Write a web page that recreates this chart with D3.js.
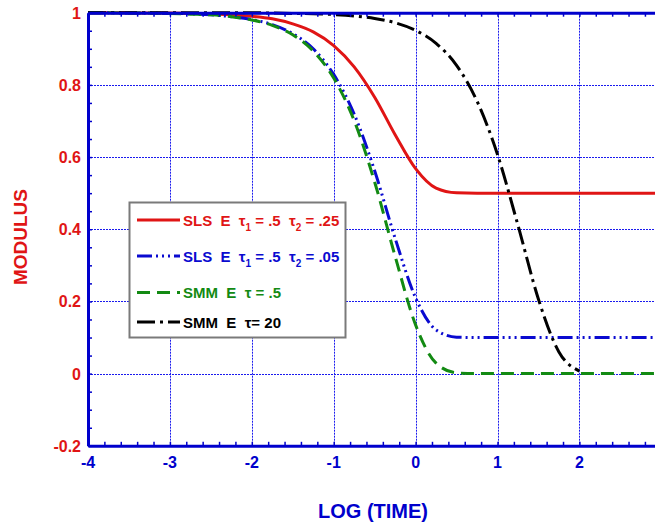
<!DOCTYPE html>
<html>
<head>
<meta charset="utf-8">
<script src="https://cdn.jsdelivr.net/npm/d3@7"></script>
<style>
body { margin: 0; background: #fff; }
svg { display: block; font-family: 'Liberation Sans', Arial, sans-serif; font-weight: bold; }
</style>
</head>
<body>
<svg width="655" height="526"></svg>
<script>
// Relaxation modulus against log(time)

var logTime = [-4, -3.75, -3.5, -3.25, -3, -2.75, -2.5, -2.25, -2, -1.75, -1.5, -1.25, -1, -0.75, -0.5, -0.25,
	0, 0.25, 0.5, 0.75, 1, 1.25, 1.5, 1.75, 2, 2.25, 2.5, 2.75, 3]

// SLS  tau1 = .5  tau2 = .25
var slsRed = [1.000, 1.000, 1.000, 0.999, 0.999, 0.998, 0.997, 0.994, 0.990, 0.983, 0.969, 0.947, 0.909, 0.850, 0.766, 0.662,
	0.568, 0.514, 0.501, 0.500, 0.500, 0.500, 0.500, 0.500, 0.500, 0.500, 0.500, 0.500, 0.500]
// SLS  tau1 = .5  tau2 = .05
var slsBlue = [1.000, 1.000, 0.999, 0.999, 0.998, 0.997, 0.994, 0.989, 0.981, 0.967, 0.942, 0.900, 0.829, 0.719, 0.562, 0.375,
	0.210, 0.121, 0.101, 0.100, 0.100, 0.100, 0.100, 0.100, 0.100, 0.100, 0.100, 0.100, 0.100]
// SMM  tau = .5
var smmGreen = [1.000, 1.000, 0.999, 0.999, 0.998, 0.996, 0.994, 0.989, 0.980, 0.965, 0.939, 0.894, 0.819, 0.701, 0.531, 0.325,
	0.135, 0.029, 0.002, 0, 0, 0, 0, 0, 0, 0, 0, 0, 0]
// SMM  tau = 20 (curve stops at log t = 2)
var smmBlack = [1.000, 1.000, 1.000, 1.000, 1.000, 1.000, 1.000, 1.000, 1.000, 0.999, 0.998, 0.997, 0.995, 0.991, 0.984, 0.972,
	0.951, 0.915, 0.854, 0.755, 0.607, 0.411, 0.206, 0.060, 0.007, null, null, null, null]

var xTicks = [-4, -3, -2, -1, 0, 1, 2, 3]
var yTicks = [-0.2, 0, 0.2, 0.4, 0.6, 0.8, 1]

var legendLabels = [
	[['SLS  E  \u03c4', 0], ['1', 1], [' = .5  \u03c4', 0], ['2', 1], [' = .25', 0]],
	[['SLS  E  \u03c4', 0], ['1', 1], [' = .5  \u03c4', 0], ['2', 1], [' = .05', 0]],
	[['SMM  E  \u03c4 = .5', 0]],
	[['SMM  E  \u03c4= 20', 0]]
]

var series = [
	{values: slsRed, color: '#e01515', dash: null},
	{values: slsBlue, color: '#0a0ad0', dash: '15,4,2,4,2,4,2,4'},
	{values: smmGreen, color: '#138a13', dash: '13,7'},
	{values: smmBlack, color: '#000000', dash: '18,5,3,5'}
]

var svg = d3.select('svg')
var axisBlue = '#0000cc'
var red = '#e01515'
var W = 655

var plotL = 88, plotR = 661.3, plotT = 12.7, plotB = 445.8
var x = d3.scaleLinear().domain([-4, 3]).range([plotL, plotR])
var y = d3.scaleLinear().domain([-0.2, 1]).range([plotB, plotT])

// snap thin grid lines onto pixel centres so they stay crisp
function px(v) { return Math.round(v) + 0.5 }

svg.append('clipPath').attr('id', 'plot-clip')
	.append('rect')
	.attr('x', plotL).attr('y', plotT - 2)
	.attr('width', plotR - plotL).attr('height', plotB - plotT + 2)

// grid
var grid = svg.append('g').attr('class', 'grid')
grid.selectAll('.vgrid')
	.data(xTicks.slice(1, -1))
	.enter()
	.append('line')
	.attr('class', 'vgrid')
	.attr('x1', function(d) { return px(x(d)) }).attr('x2', function(d) { return px(x(d)) })
	.attr('y1', plotT).attr('y2', plotB)
grid.selectAll('.hgrid')
	.data(yTicks.slice(1, -1))
	.enter()
	.append('line')
	.attr('class', 'hgrid')
	.attr('x1', plotL).attr('x2', plotR)
	.attr('y1', function(d) { return px(y(d)) }).attr('y2', function(d) { return px(y(d)) })
grid.selectAll('line')
	.attr('stroke', '#1a1aee')
	.attr('stroke-width', 1)
	.attr('stroke-dasharray', '2,1')

// curves
var line = d3.line()
	.defined(function(d) { return d[1] != null })
	.x(function(d) { return x(d[0]) })
	.y(function(d) { return y(d[1]) })
	.curve(d3.curveMonotoneX)

var curves = svg.append('g').attr('clip-path', 'url(#plot-clip)')
series.forEach(function(s) {
	var pts = logTime.map(function(t, i) { return [t, s.values[i]] })
	curves.append('path')
		.attr('d', line(pts))
		.attr('fill', 'none')
		.attr('stroke', s.color)
		.attr('stroke-width', 3)
		.attr('stroke-dasharray', s.dash)
})

// frame with inward minor ticks
var xMinor = d3.range(-4, 3.01, 0.2)
var yMinor = d3.range(-0.2, 1.001, 0.05)

function styleAxis(g) {
	g.selectAll('.domain').attr('stroke', axisBlue).attr('stroke-width', 3)
	g.selectAll('.tick line').attr('stroke', axisBlue).attr('stroke-width', 1.5)
}
svg.append('g').attr('transform', 'translate(0,' + plotB + ')')
	.call(d3.axisBottom(x).tickValues(xMinor).tickSize(-4).tickSizeOuter(0).tickFormat(''))
	.call(styleAxis)
svg.append('g').attr('transform', 'translate(0,' + plotT + ')')
	.call(d3.axisTop(x).tickValues(xMinor).tickSize(-4).tickSizeOuter(0).tickFormat(''))
	.call(styleAxis)
svg.append('g').attr('transform', 'translate(' + plotL + ',0)')
	.call(d3.axisLeft(y).tickValues(yMinor).tickSize(-4).tickSizeOuter(0).tickFormat(''))
	.call(styleAxis)
svg.append('g').attr('transform', 'translate(' + plotR + ',0)')
	.call(d3.axisRight(y).tickValues(yMinor).tickSize(-4).tickSizeOuter(0).tickFormat(''))
	.call(styleAxis)

// tick labels
svg.append('g').selectAll('text')
	.data(yTicks)
	.enter()
	.append('text')
	.attr('x', 81)
	.attr('y', function(d) { return y(d) + 6 })
	.attr('text-anchor', 'end')
	.attr('fill', red)
	.attr('font-size', 16)
	.text(function(d) { return String(+d.toFixed(1)) })

// the label for 3 falls past the right edge of the page, as in the original
svg.append('g').selectAll('text')
	.data(xTicks.filter(function(d) { return x(d) < W - 5 }))
	.enter()
	.append('text')
	.attr('x', function(d) { return x(d) })
	.attr('y', 467.5)
	.attr('text-anchor', 'middle')
	.attr('fill', axisBlue)
	.attr('font-size', 16)
	.text(function(d) { return d })

// axis titles
svg.append('text')
	.attr('transform', 'translate(26.5,237) rotate(-90)')
	.attr('text-anchor', 'middle')
	.attr('fill', red)
	.attr('font-size', 19)
	.text('MODULUS')

svg.append('text')
	.attr('x', 373)
	.attr('y', 518)
	.attr('text-anchor', 'middle')
	.attr('fill', axisBlue)
	.attr('font-size', 20)
	.text('LOG (TIME)')

// legend
var legend = svg.append('g')
legend.append('rect')
	.attr('x', 129.5).attr('y', 202.5)
	.attr('width', 216).attr('height', 135)
	.attr('fill', '#fff')
	.attr('stroke', '#7a7a7a')
	.attr('stroke-width', 2)

var rowY = [220, 256, 292.5, 322]
series.forEach(function(s, i) {
	var cy = rowY[i]
	legend.append('line')
		.attr('x1', 137).attr('x2', 180)
		.attr('y1', cy).attr('y2', cy)
		.attr('stroke', s.color)
		.attr('stroke-width', 3)
		.attr('stroke-dasharray', s.dash)
	var txt = legend.append('text')
		.attr('x', 183)
		.attr('y', cy + 5.5)
		.attr('fill', s.color)
		.attr('font-size', 15)
		.style('white-space', 'pre')
	var shift = 0
	legendLabels[i].forEach(function(p) {
		var want = p[1] ? 5 : 0
		txt.append('tspan')
			.attr('dy', want - shift)
			.attr('font-size', p[1] ? 10 : 15)
			.text(p[0])
		shift = want
	})
})
</script>
</body>
</html>
